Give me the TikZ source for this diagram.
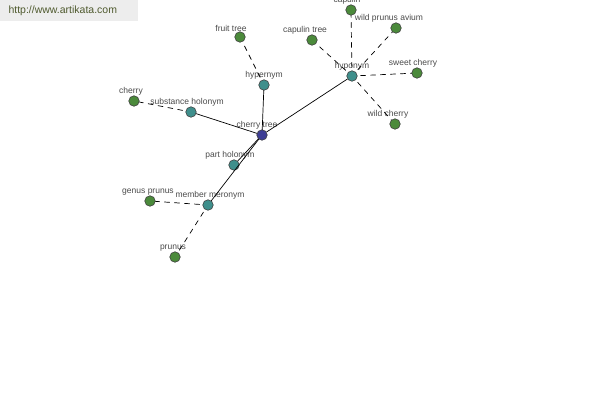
\documentclass[tikz,border=0pt]{standalone}
\usepackage{fontspec}
\setmainfont{Liberation Sans}
\definecolor{rootblue}{HTML}{3E3E94}
\definecolor{relteal}{HTML}{3F8F8C}
\definecolor{wordgreen}{HTML}{4B8A3B}
\definecolor{lblgray}{HTML}{4A4A4A}
\definecolor{markgray}{HTML}{EDEDED}
\definecolor{markgreen}{HTML}{4F5A2E}
\begin{document}
\begin{tikzpicture}[x=1pt,y=-1pt,line cap=round,
  term/.style={circle,draw=black!75,line width=0.6pt,minimum size=10.5pt,inner sep=0pt},
  root/.style={term,fill=rootblue},
  rel/.style={term,fill=relteal},
  word/.style={term,fill=wordgreen},
  lbl/.style={text=lblgray,font=\fontsize{8.5}{10}\selectfont,inner sep=0.5pt,label distance=-0.5pt},
  link/.style={line width=0.7pt},
  weak/.style={line width=0.7pt,dash pattern=on 5pt off 5pt,dash phase=-3pt}]
  \useasboundingbox (0,0) rectangle (600,400);
  \clip (0,0) rectangle (600,400);
  % watermark
  \fill[markgray] (0,0) rectangle (138,21);
  \node[text=markgreen,font=\fontsize{10.5}{12}\selectfont,anchor=west] (mark) at (5,11) {http://www.artikata.com};
  % relation nodes
  \node[root,label={[lbl,xshift=-5pt]above:cherry tree}] (cherrytree) at (262,135) {};
  \node[rel,label={[lbl]above:hypernym}] (hypernym) at (264,85) {};
  \node[rel,label={[lbl,xshift=-4pt]above:substance holonym}] (substance) at (191,112) {};
  \node[rel,label={[lbl]above:hyponym}] (hyponym) at (352,76) {};
  \node[rel,label={[lbl,xshift=-4pt]above:part holonym}] (part) at (234,165) {};
  \node[rel,label={[lbl,xshift=2pt]above:member meronym}] (member) at (208,205) {};
  % words
  \node[word,label={[lbl,xshift=-9pt]above:fruit tree}] (fruittree) at (240,37) {};
  \node[word,label={[lbl,xshift=-3pt]above:cherry}] (cherry) at (134,101) {};
  \node[word,label={[lbl,xshift=-4pt]above:capulin}] (capulin) at (351,10) {};
  \node[word,label={[lbl,xshift=-7pt]above:capulin tree}] (capulintree) at (312,40) {};
  \node[word,label={[lbl,xshift=-7pt]above:wild prunus avium}] (avium) at (396,28) {};
  \node[word,label={[lbl,xshift=-4pt]above:sweet cherry}] (sweetcherry) at (417,73) {};
  \node[word,label={[lbl,xshift=-7pt]above:wild cherry}] (wildcherry) at (395,124) {};
  \node[word,label={[lbl,xshift=-2pt]above:genus prunus}] (genusprunus) at (150,201) {};
  \node[word,label={[lbl,xshift=-2pt]above:prunus}] (prunus) at (175,257) {};
  % edges
  \draw[link] (cherrytree) -- (hypernym);
  \draw[link] (cherrytree) -- (substance);
  \draw[link] (cherrytree) -- (hyponym);
  \draw[link] (cherrytree) -- (part);
  \draw[link] (cherrytree) -- (member);
  \draw[weak] (hypernym) -- (fruittree);
  \draw[weak] (substance) -- (cherry);
  \foreach \w in {capulin,capulintree,avium,sweetcherry,wildcherry}
    \draw[weak] (hyponym) -- (\w);
  \draw[weak] (member) -- (genusprunus);
  \draw[weak] (member) -- (prunus);
\end{tikzpicture}
\end{document}
